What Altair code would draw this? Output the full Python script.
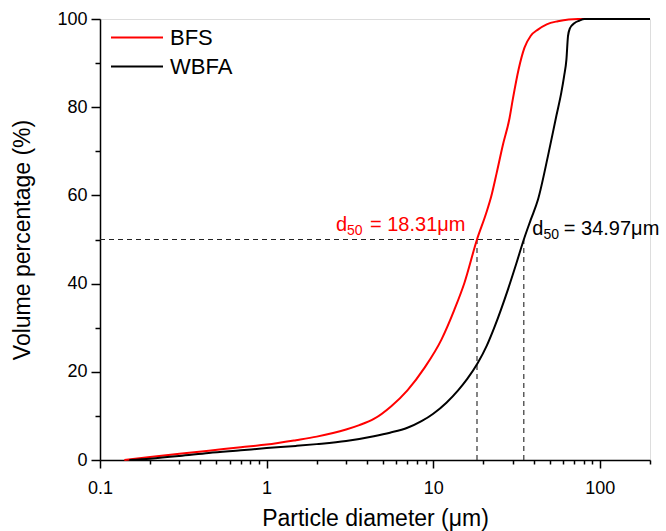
import altair as alt
import pandas as pd

# ---- data ----
bfs_x = [0.14, 0.2, 0.3, 0.45, 0.7, 1, 1.5, 2, 3, 3.6, 4.4, 5.6, 7, 8.9, 11.2, 13.4, 15.4,
         18.31, 20.8, 22.3, 24, 26.2, 28.7, 30.1, 32.5, 35.3, 38.5, 42.5, 48, 56, 65, 74, 100, 200]
bfs_y = [0, 0.7, 1.4, 2.1, 2.9, 3.5, 4.5, 5.3, 6.9, 7.9, 9.3, 12.2, 15.8, 21.0, 27.3, 34.1, 40.2,
         50, 56, 59.8, 65, 71.5, 77.5, 82.0, 88.5, 93.5, 96.2, 97.6, 98.8, 99.5, 99.9, 100, 100, 100]

wbfa_x = [0.15, 0.2, 0.3, 0.45, 0.7, 1, 1.5, 2, 3, 4.4, 5.5, 7, 8.5, 10, 12, 14.1, 16, 18.5, 21,
          23.4, 28.1, 31.5, 34.97, 38.5, 42.5, 48.8, 54.8, 58.7, 61, 63, 64.4, 66, 70.6, 75, 81, 100, 200]
wbfa_y = [0, 0.3, 0.9, 1.6, 2.2, 2.7, 3.2, 3.6, 4.3, 5.4, 6.2, 7.3, 8.8, 10.5, 13.0, 15.8, 18.4, 22, 26,
          30.3, 38.7, 44.5, 50, 54.5, 59, 68.9, 78, 83.3, 87, 90.8, 96.1, 97.8, 99.1, 99.6, 100, 100, 100]

series_names = ["BFS", "WBFA"]
series_colors = ["#ff0000", "#000000"]

d50_values = [18.31, 34.97]
d50_level = 50
d50_labels = ["= 18.31\u03bcm", "= 34.97\u03bcm"]

x_major = [0.1, 1, 10, 100]
x_ticks = [0.1, 0.2, 0.3, 0.4, 0.5, 0.6, 0.7, 0.8, 0.9,
           1, 2, 3, 4, 5, 6, 7, 8, 9,
           10, 20, 30, 40, 50, 60, 70, 80, 90,
           100, 200]
y_ticks = [0, 10, 20, 30, 40, 50, 60, 70, 80, 90, 100]

FONT = "Liberation Sans"

curves = pd.DataFrame({
    "x": bfs_x + wbfa_x,
    "y": bfs_y + wbfa_y,
    "series": [series_names[0]] * len(bfs_x) + [series_names[1]] * len(wbfa_x),
})

xscale = alt.Scale(type="log", domain=[0.1, 200], nice=False)
yscale = alt.Scale(domain=[0, 100], nice=False)

major_test = " || ".join(f"datum.value == {v}" for v in x_major)

x_axis = alt.Axis(
    title="Particle diameter (\u03bcm)",
    values=x_ticks,
    labelExpr=f"({major_test}) ? datum.label : ''",
    format="~g",
    tickSize={"condition": {"test": major_test, "value": 8}, "value": 4},
    grid=False, labelFontSize=18, titleFontSize=23, labelPadding=11, titlePadding=10,
    domainWidth=1.5, tickWidth=1.5, domainColor="black", tickColor="black",
    labelColor="black", titleColor="black", labelOverlap=False, labelFlush=False,
    titleFontWeight="normal",
)
y_axis = alt.Axis(
    title="Volume percentage (%)",
    values=y_ticks,
    labelExpr="datum.value % 20 == 0 ? datum.label : ''",
    tickSize={"condition": {"test": "datum.value % 20 == 0", "value": 9}, "value": 5},
    grid=False, labelFontSize=18, titleFontSize=23, labelPadding=4, titlePadding=22,
    domainWidth=1.5, tickWidth=1.5, domainColor="black", tickColor="black",
    labelColor="black", titleColor="black", labelOverlap=False, labelFlush=False,
    titleFontWeight="normal",
)

lines = alt.Chart(curves).mark_line(strokeWidth=2, interpolate="monotone").encode(
    x=alt.X("x:Q", scale=xscale, axis=x_axis),
    y=alt.Y("y:Q", scale=yscale, axis=y_axis),
    color=alt.Color(
        "series:N",
        scale=alt.Scale(domain=series_names, range=series_colors),
        legend=alt.Legend(
            title=None, orient="none", legendX=10, legendY=4,
            symbolType="stroke", symbolSize=2704, symbolStrokeWidth=2,
            labelFontSize=22, labelFont=FONT, labelColor="black",
            clipHeight=29, rowPadding=0, padding=0, labelOffset=6,
        ),
    ),
)

hline_df = pd.DataFrame({"x": [0.1], "x2": [max(d50_values)], "y": [d50_level]})
vline_df = pd.DataFrame({"x": d50_values, "y": [0, 0], "y2": [d50_level, d50_level]})

hline = alt.Chart(hline_df).mark_rule(strokeDash=[5, 4], strokeWidth=1.1, color="#222222").encode(
    x=alt.X("x:Q", scale=xscale), x2="x2:Q", y=alt.Y("y:Q", scale=yscale))
vline = alt.Chart(vline_df).mark_rule(strokeDash=[5, 4], strokeWidth=1.1, color="#222222").encode(
    x=alt.X("x:Q", scale=xscale), y=alt.Y("y:Q", scale=yscale), y2="y2:Q")


def label_part(xval, text, color, dx, dy, size):
    df = pd.DataFrame({"x": [xval], "y": [d50_level], "t": [text]})
    return alt.Chart(df).mark_text(
        align="left", baseline="alphabetic", dx=dx, dy=dy, fontSize=size,
        font=FONT, color=color,
    ).encode(x=alt.X("x:Q", scale=xscale), y=alt.Y("y:Q", scale=yscale), text="t:N")


texts = [
    label_part(d50_values[0], "d", series_colors[0], -141, -9, 20),
    label_part(d50_values[0], "50", series_colors[0], -130, -5, 14),
    label_part(d50_values[0], d50_labels[0], series_colors[0], -107, -9, 20),
    label_part(d50_values[1], "d", series_colors[1], 8.5, -5, 20),
    label_part(d50_values[1], "50", series_colors[1], 19.6, -1, 14),
    label_part(d50_values[1], d50_labels[1], series_colors[1], 40, -5, 20),
]

chart = alt.layer(hline, vline, lines, *texts).properties(
    width=550, height=441,
    padding={"left": 100, "top": 19, "right": 16, "bottom": 71},
    autosize=alt.AutoSizeParams(type="none"),
).configure_view(stroke=None).configure_axis(
    labelFont=FONT, titleFont=FONT
).configure(background="white")

chart.save("out.html", embed_options={"renderer": "svg", "actions": False})
